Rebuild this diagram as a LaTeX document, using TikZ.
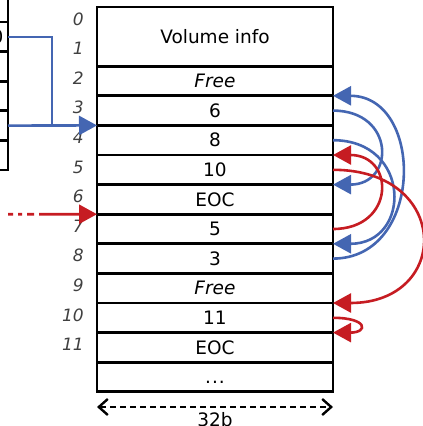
\documentclass[tikz,border=0pt]{standalone}
\usepackage{fontspec}
\setmainfont{DejaVu Sans}
\usepackage{tikz}
\usetikzlibrary{arrows.meta}

\definecolor{fatblue}{RGB}{68,102,178}
\definecolor{fatred}{RGB}{198,28,34}

\tikzset{
  cell/.style={draw, line width=2.8pt, minimum width=236pt, minimum height=29.6pt,
    inner sep=0pt, outer sep=0pt, font=\fontsize{18.5}{21}\selectfont},
  dircell/.style={draw, line width=2.8pt, minimum width=60pt, minimum height=29.6pt,
    inner sep=0pt, outer sep=0pt},
  idx/.style={anchor=east, inner sep=0pt, text=black!75, font=\fontsize{17}{20}\selectfont\itshape},
  link/.style={line width=2.6pt, -{Triangle[length=18pt,width=19pt]}},
  bluelink/.style={link, draw=fatblue},
  redlink/.style={link, draw=fatred},
  dimline/.style={line width=2.4pt, dash pattern=on 6pt off 4pt,
    {Straight Barb[length=9pt,width=16pt]}-{Straight Barb[length=9pt,width=16pt]}}
}

\begin{document}
\begin{tikzpicture}[x=1pt, y=-1pt]

\clip (0,0) rectangle (423,426);

% FAT table
\node[cell, minimum height=59.2pt] (r0) at (215,36.6) {Volume info};
\foreach \n/\txt in {2/{\itshape Free}, 3/6, 4/8, 5/10, 6/EOC, 7/5, 8/3,
                     9/{\itshape Free}, 10/11, 11/EOC}
{
\node[cell] (r\n) at (215,{21.8+29.6*\n}) {\txt};
}
\node[cell] (r12) at (215,377) {\vphantom{EOC}.\kern1pt.\kern1pt.};

% Cluster numbers
\foreach \n in {0,...,11}
{
\node[idx] (i\n) at (84,{19+29.6*\n}) {\n};
}

% Directory entries (cut off on the left)
\foreach \k in {0,...,5}
{
\node[dircell] (d\k) at (-22,{7.2+29.6*\k}) {};
}
\node[anchor=east, inner sep=0pt, font=\fontsize{18.5}{21}\selectfont] (d1txt) at (3.5,36.8) {0};

% Start of first file
\coordinate (bend) at (52,125.6);
\draw[line width=2.6pt, draw=fatblue] (d1.east) -| (bend);
\draw[bluelink] (d4.east) -- (r4.north west);

% Start of second file
\coordinate (redin) at (8,214.2);
\draw[redlink, dash pattern=on 5pt off 5pt on 4pt off 5pt on 7pt off 5pt on 200pt]
  (redin) -- (r7.north west);

% Cluster chains
\draw[bluelink] (r3.east) to[out=0, in=0, looseness=2.16] (r6.north east);
\draw[bluelink] (r4.east) to[out=0, in=0, looseness=1.95] (r8.north east);
\draw[bluelink] (r8.east) to[out=0, in=0, looseness=1.44] (r3.north east);
\draw[redlink] (r7.east) to[out=0, in=0, looseness=2.16] (r5.north east);
\draw[redlink] (r5.east) to[out=0, in=0, looseness=2.28] (r10.north east);
\draw[redlink] (r10.east) to[out=0, in=0, looseness=6.1] (r11.north east);

% Width
\coordinate (wl) at (97,407);
\coordinate (wr) at (333,407);
\draw[dimline] (wl) -- (wr);
\node[font=\fontsize{18.5}{21}\selectfont, inner sep=0pt] (bits) at (215,419.4) {32b};

\end{tikzpicture}
\end{document}
